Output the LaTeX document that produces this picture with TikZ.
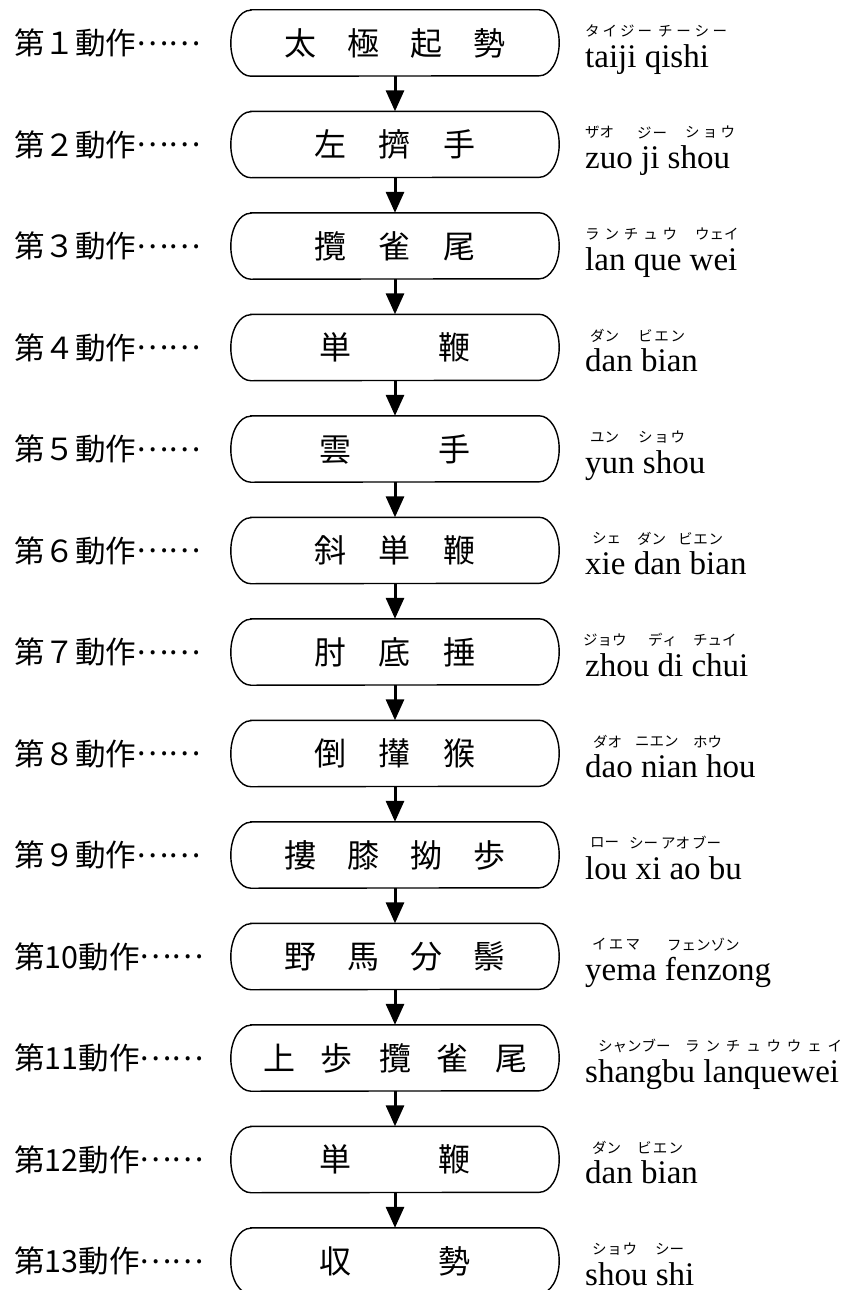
\documentclass[tikz,border=0pt]{standalone}
\usepackage{fontspec}
\setmainfont{Liberation Serif}
\newfontfamily\jp{Noto Sans CJK JP}
\usetikzlibrary{arrows.meta}
\makeatletter
\newcommand\spaced[2]{\@tfor\x:=#2\do{\makebox[#1]{\x}}}
\newcommand\spreadtext[2]{\makebox[#1][l]{\let\sepx\relax\@tfor\x:=#2\do{\sepx\x\let\sepx\hfill}}}
\makeatother
\newcommand\dotsjp{\raisebox{0.3em}{……}}
\tikzset{
  lbl/.style={font=\jp\fontsize{30.5}{32}\selectfont, anchor=west, inner sep=0pt},
  boxtext/.style={font=\jp\fontsize{32}{34}\selectfont, inner sep=0pt, minimum width=328pt, minimum height=66pt},
  roma/.style={font=\fontsize{33}{35}\selectfont, anchor=base west, inner sep=0pt},
  ruby/.style={font=\jp\fontsize{14.5}{15}\selectfont, anchor=west, inner sep=0pt},
  flow/.style={line width=3pt, -{Triangle[length=21pt,width=18pt]}},
  outline/.style={line width=1.4pt},
}
\newcommand\row[5]{%
  \pgfmathsetmacro\cy{43+(#1-1)*101.5}
  \node[lbl] (lab#1) at (14,\cy) {#2\dotsjp};
  \node[boxtext] (b#1) at (395,\cy) {\spaced{#3pt}{#4}};
  \draw[outline] ([xshift=20pt]b#1.north west) -- ([xshift=-20pt]b#1.north east)
     arc[start angle=90, end angle=-90, x radius=20pt, y radius=33pt]
     -- ([xshift=20pt]b#1.south west)
     arc[start angle=270, end angle=90, x radius=20pt, y radius=33pt] -- cycle;
  \node[roma] (rm#1) at (585,\cy+24) {#5};
}
\newcommand\rb[5]{%
  \pgfmathsetmacro\ry{43+(#1-1)*101.5-12}
  \pgfmathsetmacro\rw{#4-#3}
  \node[ruby] (k#1#2) at (#3,\ry) {\spreadtext{\rw pt}{#5}};
}
\begin{document}
\begin{tikzpicture}[x=1pt,y=-1pt]
\fill[white] (0,0) rectangle (846,1290);
\useasboundingbox (0,0) rectangle (846,1290);
\row{1}{第１動作}{63}{太極起勢}{taiji qishi}
\row{2}{第２動作}{65}{左擠手}{zuo ji shou}
\row{3}{第３動作}{65}{攬雀尾}{lan que wei}
\row{4}{第４動作}{119}{単鞭}{dan bian}
\row{5}{第５動作}{119}{雲手}{yun shou}
\row{6}{第６動作}{65}{斜単鞭}{xie dan bian}
\row{7}{第７動作}{65}{肘底捶}{zhou di chui}
\row{8}{第８動作}{65}{倒攆猴}{dao nian hou}
\row{9}{第９動作}{63}{摟膝拗歩}{lou xi ao bu}
\row{10}{第10動作}{63}{野馬分鬃}{yema fenzong}
\row{11}{第11動作}{58}{上歩攬雀尾}{shangbu lanquewei}
\row{12}{第12動作}{119}{単鞭}{dan bian}
\row{13}{第13動作}{119}{収勢}{shou shi}
\foreach \i [evaluate=\i as \j using int(\i+1)] in {1,...,12}
  \draw[flow] (b\i.south) -- (b\j.north);
\rb{1}{a}{585}{652}{タイジー}
\rb{1}{b}{658}{727}{チーシー}
\rb{2}{a}{585}{612}{ザオ}
\rb{2}{b}{637}{667}{ジー}
\rb{2}{c}{685}{735}{ショウ}
\rb{3}{a}{585}{677}{ランチュウ}
\rb{3}{b}{695}{737}{ウェイ}
\rb{4}{a}{590}{619}{ダン}
\rb{4}{b}{638}{685}{ビエン}
\rb{5}{a}{590}{619}{ユン}
\rb{5}{b}{638}{685}{ショウ}
\rb{6}{a}{592}{621}{シェ}
\rb{6}{b}{637}{666}{ダン}
\rb{6}{c}{678}{723}{ビエン}
\rb{7}{a}{583}{623}{ジョウ}
\rb{7}{b}{648}{674}{ディ}
\rb{7}{c}{693}{730}{チュイ}
\rb{8}{a}{593}{620}{ダオ}
\rb{8}{b}{635}{678}{ニエン}
\rb{8}{c}{693}{719}{ホウ}
\rb{9}{a}{590}{617}{ロー}
\rb{9}{b}{629}{656}{シー}
\rb{9}{c}{661}{688}{アオ}
\rb{9}{d}{692}{719}{ブー}
\rb{10}{a}{592}{640}{イエマ}
\rb{10}{b}{667}{738}{フェンゾン}
\rb{11}{a}{598}{668}{シャンブー}
\rb{11}{b}{685}{842}{ランチュウウェイ}
\rb{12}{a}{592}{620}{ダン}
\rb{12}{b}{637}{683}{ビエン}
\rb{13}{a}{592}{637}{ショウ}
\rb{13}{b}{655}{683}{シー}
\end{tikzpicture}
\end{document}
